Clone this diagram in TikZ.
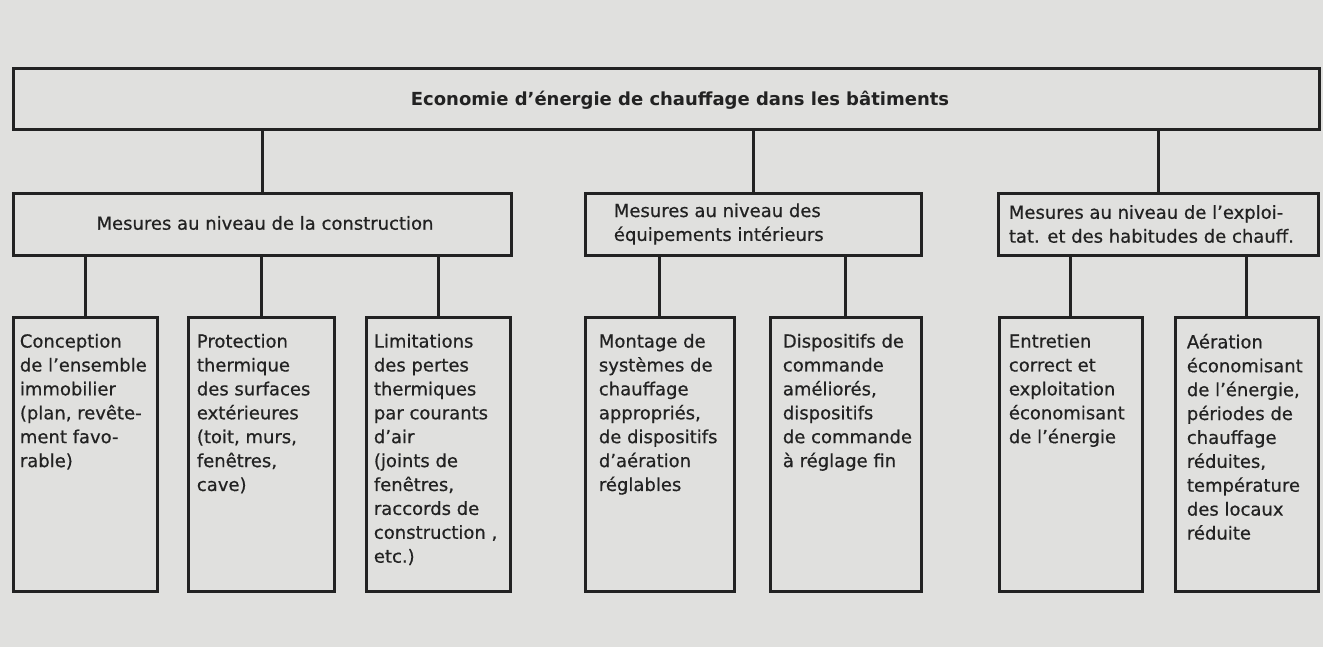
\documentclass[tikz,border=0pt]{standalone}
\usepackage{fontspec}
\setmainfont{DejaVu Sans}
\newfontface\bodyface{DejaVu Sans}[FakeBold=0.6]
\definecolor{paper}{RGB}{224,224,222}
\definecolor{ink}{RGB}{34,34,34}
\tikzset{
  box/.style={draw=ink, line width=1.5pt, fill=paper, rectangle, inner sep=0pt},
  link/.style={draw=ink, line width=1.5pt},
  txt/.style={text=ink, inner sep=0pt, align=left, font=\bodyface\fontsize{9}{11.95}\selectfont},
  title/.style={text=ink, inner sep=0pt, font=\fontsize{9}{11}\selectfont\bfseries},
}
\begin{document}
\begin{tikzpicture}[x=0.5pt,y=-0.5pt]
\fill[paper] (0,0) rectangle (1323,647);
\useasboundingbox (0,0) rectangle (1323,647);
% top
\node[box, minimum width=653pt, minimum height=30.5pt] (top) at (666,99.5) {};
\node[title] (toptxt) at (680,100) {Economie d’énergie de chauffage dans les bâtiments};
% middle level
\node[box, minimum width=249pt, minimum height=31pt] (m1) at (262,224) {};
\node[box, minimum width=168pt, minimum height=31pt] (m2) at (753,224) {};
\node[box, minimum width=160pt, minimum height=31pt] (m3) at (1158,224) {};
\node[txt] (m1t) at (265,223) {Mesures au niveau de la construction};
\node[txt, anchor=west] (m2t) at ([xshift=15pt]m2.west) {Mesures au niveau des\\équipements intérieurs};
\node[txt, anchor=west] (m3t) at ([xshift=6pt]m3.west) {Mesures au niveau de l’exploi-\\tat. et des habitudes de chauff.};
% leaves
\node[box, minimum width=72pt, minimum height=137pt] (l1) at (85,454) {};
\node[box, minimum width=73pt, minimum height=137pt] (l2) at (261,454) {};
\node[box, minimum width=72pt, minimum height=137pt] (l3) at (438,454) {};
\node[box, minimum width=74.5pt, minimum height=137pt] (l4) at (659.5,454) {};
\node[box, minimum width=75.5pt, minimum height=137pt] (l5) at (845.5,454) {};
\node[box, minimum width=71.5pt, minimum height=137pt] (l6) at (1070.5,454) {};
\node[box, minimum width=71.5pt, minimum height=137pt] (l7) at (1246.5,454) {};
\node[txt, anchor=north west] (l1t) at ([xshift=4pt,yshift=-9pt]l1.north west) {Conception\\de l’ensemble\\immobilier\\(plan, revête-\\ment favo-\\rable)};
\node[txt, anchor=north west] (l2t) at ([xshift=5pt,yshift=-9pt]l2.north west) {Protection\\thermique\\des surfaces\\extérieures\\(toit, murs,\\fenêtres,\\cave)};
\node[txt, anchor=north west] (l3t) at ([xshift=4.5pt,yshift=-9pt]l3.north west) {Limitations\\des pertes\\thermiques\\par courants\\d’air\\(joints de\\fenêtres,\\raccords de\\construction ,\\etc.)};
\node[txt, anchor=north west] (l4t) at ([xshift=7.5pt,yshift=-9pt]l4.north west) {Montage de\\systèmes de\\chauffage\\appropriés,\\de dispositifs\\d’aération\\réglables};
\node[txt, anchor=north west] (l5t) at ([xshift=7pt,yshift=-9pt]l5.north west) {Dispositifs de\\commande\\améliorés,\\dispositifs\\de commande\\à réglage fin};
\node[txt, anchor=north west] (l6t) at ([xshift=5.5pt,yshift=-9pt]l6.north west) {Entretien\\correct et\\exploitation\\économisant\\de l’énergie};
\node[txt, anchor=north west] (l7t) at ([xshift=6.5pt,yshift=-9pt]l7.north west) {Aération\\économisant\\de l’énergie,\\périodes de\\chauffage\\réduites,\\température\\des locaux\\réduite};
% connectors
\foreach \m in {m1,m2,m3}{\draw[link] (\m.north) -- (\m.north |- top.south);}
\foreach \l/\m in {l1/m1,l2/m1,l3/m1,l4/m2,l5/m2,l6/m3,l7/m3}{\draw[link] (\l.north) -- (\l.north |- \m.south);}
\end{tikzpicture}
\end{document}
